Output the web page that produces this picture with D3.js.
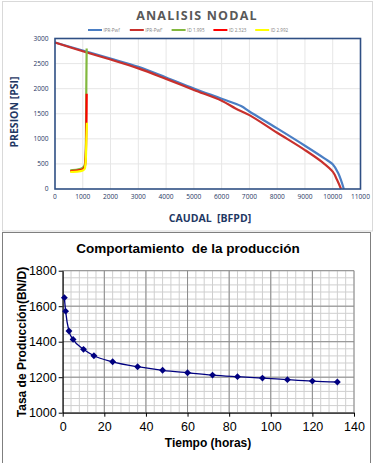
<!DOCTYPE html>
<html>
<head>
<meta charset="utf-8">
<script src="https://cdn.jsdelivr.net/npm/d3@7"></script>
<style>
  body { margin: 0; background: #fff; }
  svg { display: block; }
</style>
</head>
<body>
<svg id="chart" width="375" height="463"></svg>
<script>
// --- ANALISIS NODAL data ---
const xTicksNodal = [0, 1000, 2000, 3000, 4000, 5000, 6000, 7000, 8000, 9000, 10000, 11000];
const yTicksNodal = [0, 500, 1000, 1500, 2000, 2500, 3000];

const iprBlueQ = [0, 1000, 2000, 3000, 4000, 5000, 6000, 6700, 7000, 8000, 9000, 9700, 10000, 10200, 10400];
const iprBlueP = [2920, 2760, 2600, 2436, 2223, 2004, 1799, 1653, 1545, 1208, 863, 611, 491, 312, 0];

const iprRedQ = [0, 1000, 2000, 3000, 4000, 5000, 6000, 6500, 7000, 8000, 9000, 9600, 10000, 10150, 10300];
const iprRedP = [2920, 2745, 2580, 2405, 2195, 1975, 1760, 1606, 1473, 1122, 776, 544, 345, 190, 0];

const id1995Q = [550, 800, 1000, 1080, 1110, 1120, 1130, 1140];
const id1995P = [370, 385, 420, 500, 800, 1500, 2200, 2800];
const id2323Q = [550, 800, 1000, 1080, 1110, 1130, 1140];
const id2323P = [355, 365, 390, 460, 700, 1300, 1900];
const id2992Q = [550, 800, 1000, 1080, 1110, 1130, 1150];
const id2992P = [340, 345, 370, 420, 600, 1000, 1320];

const nodalNames = ["IPR-Pwf", "IPR-Pwf'", "ID 1.995", "ID 2.323", "ID 2.992"];
const nodalColors = ["#4a7ec4", "#c8302c", "#82b83e", "#ff0000", "#ffff00"];

// --- Comportamiento de la produccion data ---
const hours = [0.8, 1.4, 3, 5, 10, 15, 24, 36, 48, 60, 72, 84, 96, 108, 120, 132];
const rate = [1648, 1572, 1460, 1413, 1357, 1321, 1287, 1259, 1239, 1225, 1212, 1203, 1195, 1186, 1178, 1173];
const xTicksProd = [0, 20, 40, 60, 80, 100, 120, 140];
const yTicksProd = [1000, 1200, 1400, 1600, 1800];

const svg = d3.select("#chart");

// ================= top chart =================
const gTop = svg.append("g");
gTop.append("rect").attr("x", 2.5).attr("y", 1.5).attr("width", 370).attr("height", 229.5)
    .attr("fill", "#fff").attr("stroke", "#d9d9d9");

const x1 = d3.scaleLinear().domain([0, 11000]).range([55, 360.5]);
const y1 = d3.scaleLinear().domain([0, 3000]).range([189, 38.5]);

gTop.append("g").selectAll("line").data(xTicksNodal.slice(1, -1)).join("line")
    .attr("x1", d => x1(d)).attr("x2", d => x1(d))
    .attr("y1", y1(0)).attr("y2", y1(3000))
    .attr("stroke", "#e6e6e6").attr("stroke-width", 1);
gTop.append("g").selectAll("line").data(yTicksNodal.slice(1, -1)).join("line")
    .attr("x1", x1(0)).attr("x2", x1(11000))
    .attr("y1", d => y1(d)).attr("y2", d => y1(d))
    .attr("stroke", "#e6e6e6").attr("stroke-width", 1);

const lineNodal = d3.line().x(d => x1(d[0])).y(d => y1(d[1])).curve(d3.curveMonotoneY);
const lineIpr = d3.line().x(d => x1(d[0])).y(d => y1(d[1])).curve(d3.curveCatmullRom);

const nodalSeries = [
  { q: iprBlueQ, p: iprBlueP, gen: lineIpr },
  { q: iprRedQ, p: iprRedP, gen: lineIpr },
  { q: id1995Q, p: id1995P, gen: lineNodal },
  { q: id2323Q, p: id2323P, gen: lineNodal },
  { q: id2992Q, p: id2992P, gen: lineNodal }
];
nodalSeries.forEach((s, i) => {
  gTop.append("path")
    .datum(s.q.map((q, j) => [q, s.p[j]]))
    .attr("d", s.gen)
    .attr("fill", "none")
    .attr("stroke", nodalColors[i])
    .attr("stroke-width", 2.2);
});

// plot frame
gTop.append("rect").attr("x", x1(0)).attr("y", y1(3000))
    .attr("width", x1(11000) - x1(0)).attr("height", y1(0) - y1(3000))
    .attr("fill", "none").attr("stroke", "#2f4f84").attr("stroke-width", 1.6);

const navy = "#1f3864";
gTop.append("g")
    .attr("transform", `translate(0,${y1(0) + 10})`)
    .selectAll("text").data(xTicksNodal).join("text")
    .attr("x", d => x1(d)).attr("text-anchor", "middle")
    .attr("font-family", "Open Sans, sans-serif").attr("font-size", 6.6)
    .attr("fill", navy).text(d => d);
gTop.append("g")
    .selectAll("text").data(yTicksNodal).join("text")
    .attr("x", 48.5).attr("y", d => y1(d) + 2.3).attr("text-anchor", "end")
    .attr("font-family", "Open Sans, sans-serif").attr("font-size", 6.6)
    .attr("fill", navy).text(d => d);

gTop.append("text").attr("x", 197).attr("y", 20).attr("text-anchor", "middle")
    .attr("font-family", "Open Sans, sans-serif").attr("font-weight", "bold")
    .attr("font-size", 12.5).attr("letter-spacing", 1.2).attr("fill", "#595959")
    .text("ANALISIS NODAL");

gTop.append("text").attr("x", 210).attr("y", 222).attr("text-anchor", "middle")
    .attr("font-family", "Open Sans, sans-serif").attr("font-weight", "bold")
    .attr("font-size", 10.5).attr("fill", navy).attr("xml:space", "preserve")
    .text("CAUDAL  [BFPD]");

gTop.append("text").attr("transform", "translate(18,112) rotate(-90)").attr("text-anchor", "middle")
    .attr("font-family", "Open Sans, sans-serif").attr("font-weight", "bold")
    .attr("font-size", 10.5).attr("fill", navy)
    .text("PRESION [PSI]");

const legend = gTop.append("g").selectAll("g").data(nodalNames).join("g")
    .attr("transform", (d, i) => `translate(${88 + i * 41.8},30)`);
legend.append("line").attr("x1", 0).attr("x2", 14).attr("stroke", (d, i) => nodalColors[i]).attr("stroke-width", 2);
legend.append("text").attr("x", 15.5).attr("y", 1.8)
    .attr("font-family", "Open Sans, sans-serif").attr("font-size", 4.6)
    .attr("fill", "#7f7f7f").text(d => d);

// ================= bottom chart =================
const gBot = svg.append("g");
gBot.append("rect").attr("x", 2.5).attr("y", 232.5).attr("width", 368).attr("height", 240)
    .attr("fill", "#fff").attr("stroke", "#7f7f7f");

const x2 = d3.scaleLinear().domain([0, 140]).range([62.7, 354]);
const y2 = d3.scaleLinear().domain([1000, 1800]).range([412.7, 270.7]);

// minor grid
gBot.append("g").selectAll("line").data(d3.range(0, 141, 4)).join("line")
    .attr("x1", d => x2(d)).attr("x2", d => x2(d))
    .attr("y1", y2(1000)).attr("y2", y2(1800))
    .attr("stroke", "#cfcfcf").attr("stroke-width", 1);
gBot.append("g").selectAll("line").data(d3.range(1000, 1801, 40)).join("line")
    .attr("x1", x2(0)).attr("x2", x2(140))
    .attr("y1", d => y2(d)).attr("y2", d => y2(d))
    .attr("stroke", "#cfcfcf").attr("stroke-width", 1);
// major grid
gBot.append("g").selectAll("line").data(xTicksProd).join("line")
    .attr("x1", d => x2(d)).attr("x2", d => x2(d))
    .attr("y1", y2(1000)).attr("y2", y2(1800))
    .attr("stroke", "#8c8c8c").attr("stroke-width", 1);
gBot.append("g").selectAll("line").data(yTicksProd).join("line")
    .attr("x1", x2(0)).attr("x2", x2(140))
    .attr("y1", d => y2(d)).attr("y2", d => y2(d))
    .attr("stroke", "#8c8c8c").attr("stroke-width", 1);

// axes
gBot.append("g").attr("transform", `translate(0,${y2(1000)})`)
    .call(d3.axisBottom(x2).tickValues(xTicksProd).tickSize(4).tickSizeOuter(0).tickFormat(d3.format("d")))
    .call(g => g.select(".domain").attr("stroke", "#000"))
    .call(g => g.selectAll("text").attr("font-family", "Liberation Sans, Arial, sans-serif")
        .attr("font-size", 12.5).attr("fill", "#000").attr("dy", "0.9em"));
gBot.append("g").attr("transform", `translate(${x2(0)},0)`)
    .call(d3.axisLeft(y2).tickValues(yTicksProd).tickSize(4).tickSizeOuter(0).tickFormat(d3.format("d")))
    .call(g => g.select(".domain").attr("stroke", "#000"))
    .call(g => g.selectAll("text").attr("font-family", "Liberation Sans, Arial, sans-serif")
        .attr("font-size", 12.5).attr("fill", "#000").attr("x", -6));

const prodLine = d3.line().x((d, i) => x2(hours[i])).y(d => y2(d)).curve(d3.curveMonotoneX);
gBot.append("path").datum(rate).attr("d", prodLine)
    .attr("fill", "none").attr("stroke", "#000080").attr("stroke-width", 1.3);
gBot.append("g").selectAll("path").data(rate).join("path")
    .attr("transform", (d, i) => `translate(${x2(hours[i])},${y2(d)})`)
    .attr("d", d3.symbol(d3.symbolDiamond2, 30))
    .attr("fill", "#000080");

gBot.append("text").attr("x", 188).attr("y", 253).attr("text-anchor", "middle")
    .attr("font-family", "Liberation Sans, Arial, sans-serif").attr("font-weight", "bold")
    .attr("font-size", 13.5).attr("fill", "#000").attr("xml:space", "preserve")
    .text("Comportamiento  de la producción");
gBot.append("text").attr("x", 208).attr("y", 447).attr("text-anchor", "middle")
    .attr("font-family", "Liberation Sans, Arial, sans-serif").attr("font-weight", "bold")
    .attr("font-size", 12).attr("fill", "#000")
    .text("Tiempo (horas)");
gBot.append("text").attr("transform", "translate(26,342) rotate(-90)").attr("text-anchor", "middle")
    .attr("font-family", "Liberation Sans, Arial, sans-serif").attr("font-weight", "bold")
    .attr("font-size", 12).attr("fill", "#000")
    .text("Tasa de Producción(BN/D)");
</script>
</body>
</html>
